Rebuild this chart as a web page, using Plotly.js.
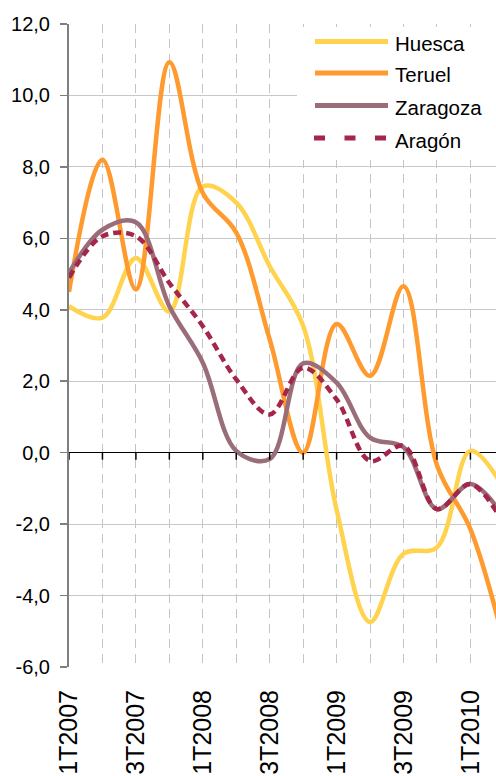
<!DOCTYPE html>
<html><head><meta charset="utf-8">
<script src="https://cdn.plot.ly/plotly-3.0.1.min.js"></script>
<style>html,body{margin:0;padding:0;background:#fff;}#chart{width:496px;height:776px;}</style>
</head><body><div id="chart"></div>
<script>
// ---- data ----
const quarters = ['1T2007','2T2007','3T2007','4T2007','1T2008','2T2008','3T2008','4T2008','1T2009','2T2009','3T2009','4T2009','1T2010','2T2010'];
const huesca   = [4.1, 3.78, 5.45, 3.95, 7.45, 7.0, 5.22, 3.55, -1.6, -4.74, -2.83, -2.65, 0.05, -1.0];
const teruel   = [4.5, 8.2, 4.57, 10.93, 7.27, 6.16, 3.17, 0.0, 3.6, 2.15, 4.66, -0.35, -2.14, -5.3];
const zaragoza = [5.03, 6.24, 6.45, 4.1, 2.52, 0.05, -0.18, 2.5, 1.96, 0.42, 0.15, -1.58, -0.88, -1.8];
const aragon   = [4.9, 6.06, 6.06, 4.75, 3.54, 2.05, 1.07, 2.38, 1.49, -0.23, 0.19, -1.58, -0.88, -2.0];
const seriesNames = ['Huesca', 'Teruel', 'Zaragoza', 'Aragón'];
const yTickVals = [-6, -4, -2, 0, 2, 4, 6, 8, 10, 12];
const xTickLabels = ['1T2007', '3T2007', '1T2008', '3T2008', '1T2009', '3T2009', '1T2010'];

// ---- styles ----
const seriesValues = [huesca, teruel, zaragoza, aragon];
const colors = ['#FFD34E', '#FF9A2E', '#9A6E79', '#A4264B'];
const dashes = ['solid', 'solid', 'solid', '8px,5px'];
const FONT = 'Liberation Sans, Arial, sans-serif';

const M = {l: 69, r: 0, t: 24, b: 109};
const W = 496 - M.l - M.r, H = 776 - M.t - M.b;
const px = v => (v - M.l) / W;
const py = v => (M.t + H - v) / H;

const traces = seriesValues.map((vals, i) => ({
  type: 'scatter', mode: 'lines', name: seriesNames[i],
  x: quarters, y: vals,
  line: {color: colors[i], width: 4.5, shape: 'spline', smoothing: 1, dash: dashes[i]},
  hoverinfo: 'skip'
}));

const shapes = [];
// x tick marks on the zero line
quarters.forEach(q => shapes.push({
  type: 'line', xref: 'x', yref: 'y', x0: q, x1: q,
  ysizemode: 'pixel', yanchor: 0, y0: 0, y1: -7,
  line: {color: '#000', width: 1.5}
}));
// legend background
shapes.push({type: 'rect', xref: 'paper', yref: 'paper', x0: px(297), x1: 1.02, y0: py(160), y1: py(27),
  fillcolor: '#ffffff', line: {width: 0}, layer: 'above'});
const legendY = [41.5, 73, 105.5, 138];
const annotations = [];
seriesNames.forEach((n, i) => {
  shapes.push({type: 'line', xref: 'paper', yref: 'paper',
    x0: px(i === 3 ? 314 : 315), x1: px(388), y0: py(legendY[i]), y1: py(legendY[i]),
    line: {color: colors[i], width: 5, dash: i === 3 ? '11px,19.5px' : 'solid'}, layer: 'above'});
  annotations.push({xref: 'paper', yref: 'paper', x: px(393), y: py(legendY[i] + 2),
    xanchor: 'left', yanchor: 'middle', showarrow: false, text: n,
    font: {family: FONT, size: 20.5, color: '#000'}});
});

const layout = {
  width: 496, height: 776, margin: M,
  paper_bgcolor: '#fff', plot_bgcolor: '#fff',
  showlegend: false,
  font: {family: FONT, color: '#000'},
  xaxis: {
    type: 'category', range: [0, (496 - M.l) / 33.45],
    tickmode: 'array', tickvals: quarters,
    ticktext: quarters.map(q => xTickLabels.includes(q) ? q : ''),
    tickangle: -90, ticks: '', ticklabelstandoff: 17,
    tickfont: {family: FONT, size: 25, color: '#000'},
    showgrid: true, gridcolor: '#c4c4c4', gridwidth: 1, griddash: '9px,6px',
    zeroline: false, showline: false, automargin: false
  },
  yaxis: {
    range: [-6, 12], tickmode: 'array', tickvals: yTickVals,
    ticktext: yTickVals.map(v => v.toFixed(1).replace('.', ',')),
    ticks: 'outside', ticklen: 7, tickwidth: 1.5, tickcolor: '#7f7f7f',
    ticklabelstandoff: 6,
    tickfont: {family: FONT, size: 20, color: '#000'},
    showgrid: true, gridcolor: '#c8c8c8', gridwidth: 1,
    zeroline: true, zerolinecolor: '#000', zerolinewidth: 1.5,
    showline: true, linecolor: '#7f7f7f', linewidth: 2, automargin: false
  },
  shapes: shapes,
  annotations: annotations
};

Plotly.newPlot('chart', traces, layout, {staticPlot: true, displayModeBar: false});
</script>
</body></html>
